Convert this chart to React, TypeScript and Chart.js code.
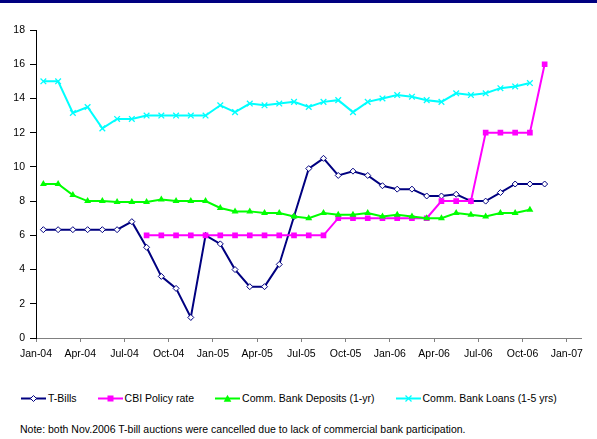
import React, { useEffect, useRef } from "react";
import { Chart, registerables } from "chart.js";

Chart.register(...registerables);

// Months Jan-04 .. Nov-06 (35 months)
const months = [
  "Jan-04", "Feb-04", "Mar-04", "Apr-04", "May-04", "Jun-04", "Jul-04", "Aug-04", "Sep-04", "Oct-04", "Nov-04", "Dec-04",
  "Jan-05", "Feb-05", "Mar-05", "Apr-05", "May-05", "Jun-05", "Jul-05", "Aug-05", "Sep-05", "Oct-05", "Nov-05", "Dec-05",
  "Jan-06", "Feb-06", "Mar-06", "Apr-06", "May-06", "Jun-06", "Jul-06", "Aug-06", "Sep-06", "Oct-06", "Nov-06",
];

const tickLabels = [
  "Jan-04", "Apr-04", "Jul-04", "Oct-04", "Jan-05", "Apr-05", "Jul-05",
  "Oct-05", "Jan-06", "Apr-06", "Jul-06", "Oct-06", "Jan-07",
];

const tBills = [
  6.33, 6.33, 6.33, 6.33, 6.33, 6.33, 6.8, 5.3, 3.6, 2.9, 1.2, 6.0,
  5.5, 4.0, 3.0, 3.0, 4.3, 7.1, 9.9, 10.5, 9.5, 9.75, 9.5, 8.9,
  8.7, 8.7, 8.3, 8.3, 8.4, 8.0, 8.0, 8.5, 9.0, 9.0, 9.0,
];

const cbiPolicyRate = [
  null, null, null, null, null, null, null, 6, 6, 6, 6, 6,
  6, 6, 6, 6, 6, 6, 6, 6, 7, 7, 7, 7,
  7, 7, 7, 8, 8, 8, 12, 12, 12, 12, 16,
];

const bankDeposits = [
  9, 9, 8.35, 8, 8, 7.95, 7.95, 7.95, 8.1, 8, 8, 8,
  7.6, 7.4, 7.4, 7.3, 7.3, 7.1, 7.0, 7.3, 7.2, 7.2, 7.3, 7.1,
  7.2, 7.1, 7.0, 7.0, 7.3, 7.2, 7.1, 7.3, 7.3, 7.5, null,
];

const bankLoans = [
  15, 15, 13.15, 13.5, 12.25, 12.8, 12.8, 13, 13, 13, 13, 13,
  13.6, 13.2, 13.7, 13.6, 13.7, 13.8, 13.5, 13.8, 13.9, 13.2, 13.8, 14.0,
  14.2, 14.1, 13.9, 13.8, 14.3, 14.2, 14.3, 14.6, 14.7, 14.9, null,
];

const seriesNames = ["T-Bills", "CBI Policy rate", "Comm. Bank Deposits (1-yr)", "Comm. Bank Loans (1-5 yrs)"];
const seriesColors = ["#000080", "#FF00FF", "#00FF00", "#00FFFF"];
const noteText = "Note: both Nov.2006 T-bill auctions were cancelled due to lack of commercial bank participation.";

const FONT_FAMILY = "'Liberation Sans', Arial, Helvetica, sans-serif";

function toPoints(vals: (number | null)[]) {
  // each monthly observation sits mid-month on a month-based linear axis
  return months.map((_, i) => ({ x: i + 0.5, y: vals[i] ?? null }));
}

function Sample({ idx }: { idx: number }) {
  const c = seriesColors[idx];
  let marker: React.ReactNode = null;
  if (idx === 0) marker = <polygon points="12.5,1.5 15.5,4.5 12.5,7.5 9.5,4.5" fill="#fff" stroke={c} strokeWidth={1} />;
  if (idx === 1) marker = <rect x={9.5} y={1.5} width={6} height={6} fill={c} />;
  if (idx === 2) marker = <polygon points="12.5,0.8 16.3,7.8 8.7,7.8" fill={c} />;
  if (idx === 3)
    marker = (
      <g stroke={c} strokeWidth={1.3}>
        <line x1={9.5} y1={1.5} x2={15.5} y2={7.5} />
        <line x1={15.5} y1={1.5} x2={9.5} y2={7.5} />
      </g>
    );
  return (
    <svg width={25} height={9} style={{ display: "block" }}>
      <line x1={0} y1={4.5} x2={25} y2={4.5} stroke={c} strokeWidth={2} />
      {marker}
    </svg>
  );
}

export default function App() {
  const canvasRef = useRef<HTMLCanvasElement | null>(null);

  useEffect(() => {
    document.body.style.margin = "0";
    const canvas = canvasRef.current;
    if (!canvas) return;
    const tickFont = { family: FONT_FAMILY, size: 10.5 };
    const chart = new Chart(canvas, {
      type: "line",
      data: {
        datasets: [
          {
            label: seriesNames[0],
            data: toPoints(tBills),
            borderColor: seriesColors[0],
            backgroundColor: "#ffffff",
            borderWidth: 2,
            pointStyle: "rectRot",
            pointRadius: 3,
            pointBorderWidth: 1,
            pointBorderColor: seriesColors[0],
            pointBackgroundColor: "#ffffff",
            order: 4,
          },
          {
            label: seriesNames[1],
            data: toPoints(cbiPolicyRate),
            borderColor: seriesColors[1],
            backgroundColor: seriesColors[1],
            borderWidth: 2,
            pointStyle: "rect",
            pointRadius: 4,
            pointBorderWidth: 0,
            pointBackgroundColor: seriesColors[1],
            order: 3,
          },
          {
            label: seriesNames[2],
            data: toPoints(bankDeposits),
            borderColor: seriesColors[2],
            backgroundColor: seriesColors[2],
            borderWidth: 2,
            pointStyle: "triangle",
            pointRadius: 4,
            pointBorderWidth: 0,
            pointBackgroundColor: seriesColors[2],
            order: 2,
          },
          {
            label: seriesNames[3],
            data: toPoints(bankLoans),
            borderColor: seriesColors[3],
            backgroundColor: seriesColors[3],
            borderWidth: 2,
            pointStyle: "crossRot",
            pointRadius: 4,
            pointBorderWidth: 1.3,
            pointBorderColor: seriesColors[3],
            order: 1,
          },
        ],
      },
      options: {
        responsive: false,
        animation: false,
        layout: { padding: { top: 30, right: 15.5, left: 0, bottom: 0 } },
        plugins: {
          legend: { display: false },
          tooltip: { enabled: false },
        },
        scales: {
          x: {
            type: "linear",
            min: 0,
            max: 37,
            afterBuildTicks: (scale: any) => {
              scale.ticks = tickLabels.map((_, i) => ({ value: i * 3 }));
            },
            afterFit: (scale: any) => {
              scale.height = 32;
            },
            ticks: {
              callback: (_v: any, index: number) => tickLabels[index] ?? "",
              font: tickFont,
              color: "#000",
              padding: 6,
              maxRotation: 0,
              autoSkip: false,
            },
            grid: { drawOnChartArea: false, drawTicks: true, tickLength: 4, color: "#808080" },
            border: { color: "#808080", width: 1 },
          },
          y: {
            min: 0,
            max: 18,
            afterFit: (scale: any) => {
              scale.width = 36;
            },
            ticks: { stepSize: 2, font: tickFont, color: "#000", padding: 5 },
            grid: { drawOnChartArea: false, drawTicks: true, tickLength: 6, color: "#000" },
            border: { color: "#000", width: 1 },
          },
        },
      },
    } as any);
    return () => chart.destroy();
  }, []);

  return (
    <div
      style={{
        position: "relative",
        width: 597,
        height: 439,
        background: "#fff",
        overflow: "hidden",
        fontFamily: FONT_FAMILY,
        color: "#000",
      }}
    >
      <canvas ref={canvasRef} width={597} height={370} style={{ position: "absolute", left: 0, top: 0, display: "block" }} />
      <div style={{ position: "absolute", left: 0, top: 0, width: 597, height: 3, background: "#000080" }} />
      <div
        style={{
          position: "absolute",
          left: 21,
          top: 391,
          height: 14,
          display: "flex",
          alignItems: "center",
          fontSize: 10.5,
          whiteSpace: "nowrap",
        }}
      >
        {seriesNames.map((name, i) => (
          <div key={name} style={{ display: "flex", alignItems: "center", marginRight: 21 }}>
            <Sample idx={i} />
            <span style={{ marginLeft: 2 }}>{name}</span>
          </div>
        ))}
      </div>
      <div
        style={{
          position: "absolute",
          left: 20,
          top: 422,
          height: 14,
          lineHeight: "14px",
          fontSize: 10.5,
          whiteSpace: "nowrap",
        }}
      >
        {noteText}
      </div>
    </div>
  );
}
